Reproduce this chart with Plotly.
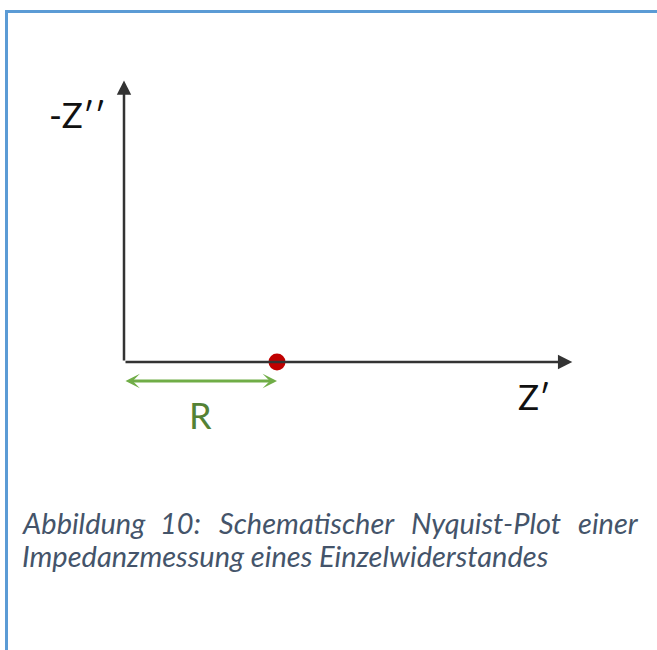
import plotly.graph_objects as go

# ---- data (schematic Nyquist plot of a single resistor) ----
z_real = [1.0]          # Z' of the single resistor point (= R)
z_imag = [0.0]          # -Z'' of the point
resistance = [1.0]      # R (length of green double arrow)
z_real_axis_max = 2.93  # length of Z' axis arrow
z_imag_axis_max = 1.84  # length of -Z'' axis arrow

axis_labels = ["Z\u2032", "-Z\u2032\u2032"]
r_label = "R"
caption_line1 = ["Abbildung", "10:", "Schematischer", "Nyquist-Plot", "einer"]
caption_line2 = "Impedanzmessung eines Einzelwiderstandes"

# ---- layout geometry ----
W, H = 657, 650
PX = 153.0               # pixels per unit
OX, OY = 124, 362        # origin in pixels

xr = [-OX / PX, (W - OX) / PX]
yr = [-(H - OY) / PX, OY / PX]

def py(p):
    return 1 - p / H

def pxp(p):
    return p / W

AXIS_COLOR = "#333333"
GREEN = "#70AD47"
DARK_GREEN = "#548235"
RED = "#C00000"
CAP_COLOR = "#44546A"
BORDER = "#5B9BD5"
FONT = "Lato"

fig = go.Figure()

# red point at (R, 0)
fig.add_trace(go.Scatter(
    x=z_real, y=z_imag, mode="markers",
    marker=dict(size=17, color=RED, line=dict(width=0)),
    hoverinfo="skip", showlegend=False,
))

annotations = []
# Z' axis arrow
annotations.append(dict(
    x=z_real_axis_max, y=0, ax=0, ay=0, xref="x", yref="y", axref="x", ayref="y",
    text="", showarrow=True, arrowhead=2, arrowsize=1.15, arrowwidth=2.5,
    arrowcolor=AXIS_COLOR,
))
# -Z'' axis arrow
annotations.append(dict(
    x=0, y=z_imag_axis_max, ax=0, ay=0, xref="x", yref="y", axref="x", ayref="y",
    text="", showarrow=True, arrowhead=2, arrowsize=1.15, arrowwidth=2.5,
    arrowcolor=AXIS_COLOR,
))
# green double arrow for R
ry = -19 / PX
annotations.append(dict(
    x=resistance[0], y=ry, ax=0, ay=ry, xref="x", yref="y", axref="x", ayref="y",
    text="", showarrow=True, arrowhead=3, startarrowhead=3, arrowside="end+start",
    arrowsize=0.8, startarrowsize=0.8, arrowwidth=3, arrowcolor=GREEN,
))
# labels
annotations.append(dict(
    x=resistance[0] / 2, y=-53 / PX, xref="x", yref="y", text=r_label, showarrow=False,
    font=dict(family=FONT, size=36, color=DARK_GREEN),
))
annotations.append(dict(
    x=(534 - OX) / PX, y=-(396 - OY) / PX, xref="x", yref="y", text=axis_labels[0],
    showarrow=False, font=dict(family=FONT, size=35, color="#111111"),
))
annotations.append(dict(
    x=(77 - OX) / PX, y=(OY - 114) / PX, xref="x", yref="y", text=axis_labels[1],
    showarrow=False, font=dict(family=FONT, size=35, color="#111111"),
))

# caption (line 1 justified by word placement)
cap_font = dict(family=FONT, size=29, color=CAP_COLOR)
l1y = py(522)
l2y = py(555)
word_pos = [(20, "left"), (180, "center"), (307, "center"), (486, "center"), (641, "right")]
for w, (xp, anc) in zip(caption_line1, word_pos):
    annotations.append(dict(
        x=pxp(xp), y=l1y, xref="paper", yref="paper", text="<i>" + w + "</i>",
        showarrow=False, xanchor=anc, yanchor="middle", font=cap_font,
    ))
annotations.append(dict(
    x=pxp(20), y=l2y, xref="paper", yref="paper", text="<i>" + caption_line2 + "</i>",
    showarrow=False, xanchor="left", yanchor="middle", font=cap_font,
))

shapes = [
    dict(type="line", xref="paper", yref="paper", x0=pxp(6.5), x1=pxp(6.5), y0=0, y1=py(10),
         line=dict(color=BORDER, width=3)),
    dict(type="line", xref="paper", yref="paper", x0=pxp(5), x1=1, y0=py(11.5), y1=py(11.5),
         line=dict(color=BORDER, width=3)),
]

fig.update_layout(
    width=W, height=H,
    margin=dict(l=0, r=0, t=0, b=0),
    paper_bgcolor="white", plot_bgcolor="white",
    xaxis=dict(range=xr, visible=False, fixedrange=True),
    yaxis=dict(range=yr, visible=False, fixedrange=True),
    annotations=annotations, shapes=shapes, showlegend=False,
)

fig.write_html(
    "out.html",
    config={"displayModeBar": False, "staticPlot": True},
    post_script="document.body.style.margin='0';document.body.style.padding='0';document.body.style.overflow='hidden';",
)
